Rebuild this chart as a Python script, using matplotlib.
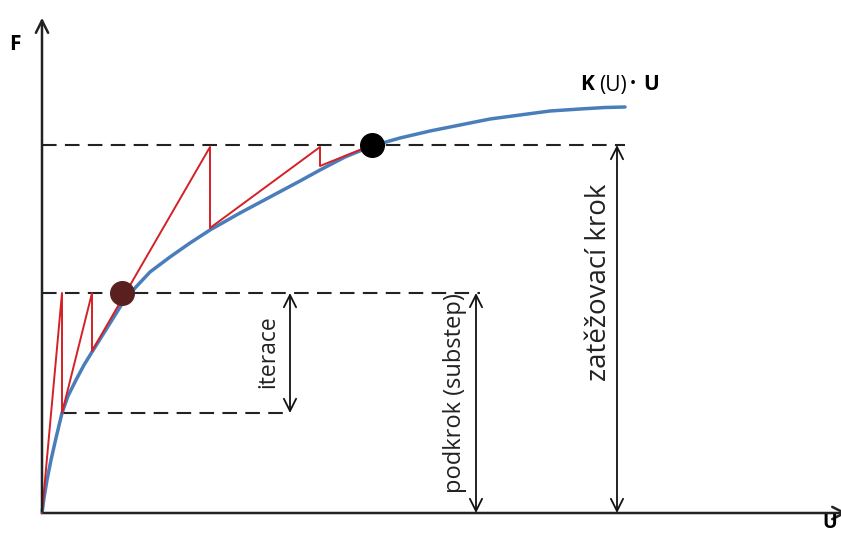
import matplotlib.pyplot as plt

plt.rcParams['font.family'] = ['Open Sans', 'DejaVu Sans']

# krivka K(U)*U
curve_u = [0, 2, 5, 9, 14, 20, 26, 34, 42, 50, 60, 70, 80, 93, 108, 128, 148, 168,
           198, 228, 258, 278, 303, 330, 358, 388, 418, 448, 478, 508, 538, 563, 583]
curve_f = [0, 15, 33, 53, 75, 100, 117, 133, 148, 161, 177, 193, 209, 225, 241, 256, 270, 283,
           300, 316, 332, 343, 356, 367, 375, 382, 388, 394, 398, 402, 404, 405.5, 406]

# Newton-Raphson iterace
iter_u = [0, 20, 20, 50, 50, 168, 168, 278, 278, 330]
iter_f = [0, 220, 100, 220, 162, 366, 285, 366, 347, 368]

# hladiny
f_load = 368
f_sub = 220
f_iter = 100
conv_points = [(80, 220), (330, 368)]
conv_colors = ['#5a2020', 'black']

fig = plt.figure(figsize=(8.41, 5.33), dpi=100)
ax = fig.add_axes([0, 0, 1, 1])
ax.set_xlim(-42, 799)
ax.set_ylim(-20, 513)
ax.axis('off')

# osy
ax.annotate('', xy=(0, 498), xytext=(0, -1),
            arrowprops=dict(arrowstyle='->', lw=1.8, color='#222222', mutation_scale=22))
ax.annotate('', xy=(808, 0), xytext=(-1, 0), annotation_clip=False,
            arrowprops=dict(arrowstyle='->', lw=1.8, color='#222222', mutation_scale=22))
ax.text(-27, 468, 'F', fontsize=15, fontweight='bold', ha='center', va='center')
ax.text(780, -10, 'U', fontsize=14, fontweight='bold', ha='left', va='center')

# prerusovane hladiny
dash = dict(color='#222222', lw=1.5, dashes=(7, 4))
ax.plot([0, 583], [f_load, f_load], **dash)
ax.plot([0, 438], [f_sub, f_sub], **dash)
ax.plot([20, 248], [f_iter, f_iter], **dash)

ax.plot(curve_u, curve_f, color='#4a7ebb', lw=2.5, solid_capstyle='round', solid_joinstyle='round')
ax.plot(iter_u, iter_f, color='#d42027', lw=1.4)

for (u, f), c in zip(conv_points, conv_colors):
    ax.plot(u, f, 'o', color=c, markersize=17, zorder=5)

# kotovani
arrow = dict(arrowstyle='<->', lw=1.3, color='#111111', mutation_scale=22, shrinkA=0, shrinkB=0)
ax.annotate('', xy=(248, f_sub), xytext=(248, f_iter), arrowprops=arrow)
ax.annotate('', xy=(434, f_sub), xytext=(434, 0), arrowprops=arrow)
ax.annotate('', xy=(575, f_load), xytext=(575, 0), arrowprops=arrow)

ax.text(226, 161, 'iterace', rotation=90, fontsize=16.5, ha='center', va='center', color='#222222')
ax.text(413, 120, 'podkrok (substep)', rotation=90, fontsize=17, ha='center', va='center', color='#222222')
ax.text(557, 231, 'zatěžovací krok', rotation=90, fontsize=20, ha='center', va='center', color='#222222')

ax.text(538, 428, 'K', fontsize=15, fontweight='bold', ha='left', va='center')
ax.text(557, 428, '(U)', fontsize=15, ha='left', va='center')
ax.text(588, 428, '·', fontsize=15, fontweight='bold', ha='left', va='center')
ax.text(601, 428, 'U', fontsize=15, fontweight='bold', ha='left', va='center')

fig.savefig('out.png', dpi=100)
